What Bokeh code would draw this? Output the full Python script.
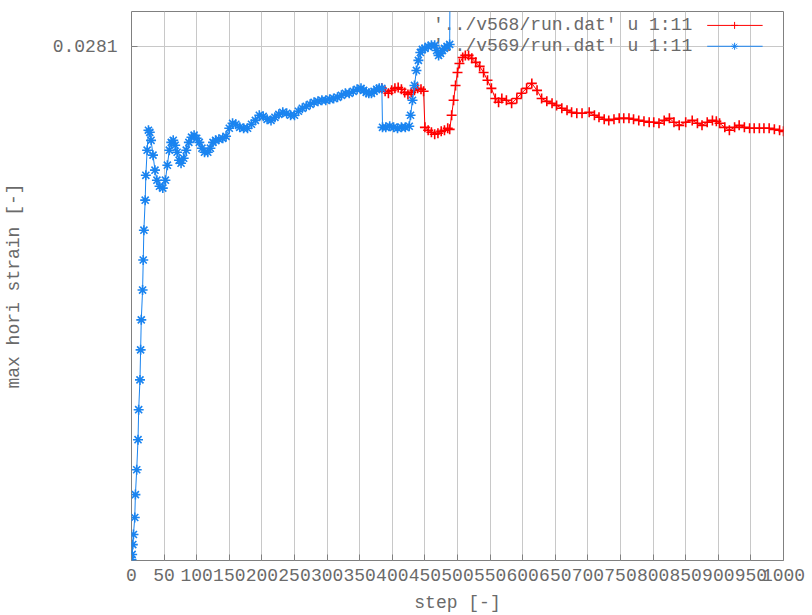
from bokeh.plotting import figure
from bokeh.models import Range1d, FixedTicker
from bokeh.core.properties import value
from bokeh.embed import file_html
from bokeh.resources import INLINE

# ---------------- data ----------------
series_names = ["'../v568/run.dat' u 1:11", "'../v569/run.dat' u 1:11"]

red_step = [384, 389, 394, 399, 404, 409, 414, 419, 424, 429, 434, 439, 444, 448,
            450, 455, 460, 465, 470, 475, 480, 485, 488,
            491, 494, 497, 500, 503, 508, 512, 517, 522, 528, 534, 540, 546, 552, 558,
            563, 568, 575, 583, 591, 598, 606, 614, 622, 629, 637, 645, 652, 660, 668,
            675, 683, 691, 702, 710, 717, 725, 732, 740, 748, 755, 763, 770, 778, 786,
            794, 801, 809, 817, 825, 832, 840, 850, 860, 868, 875, 883, 891, 897, 902,
            910, 917, 925, 932, 940, 948, 955, 963, 970, 978, 986, 994, 1000]
red_val = [0.0258, 0.02564, 0.02553, 0.02569, 0.0258, 0.02585, 0.02575, 0.02558, 0.02547,
           0.02558, 0.02569, 0.0258, 0.02575, 0.02564,
           0.02367, 0.02351, 0.0234, 0.02329, 0.02335, 0.02345, 0.02351, 0.02362, 0.02356,
           0.02433, 0.02515, 0.02596, 0.02667, 0.02716, 0.02749, 0.0276, 0.0276, 0.02744,
           0.02722, 0.027, 0.02667, 0.02624, 0.0258, 0.02525,
           0.02504, 0.02525, 0.02515, 0.02498, 0.02525, 0.02553, 0.0258, 0.02607, 0.02569,
           0.02525, 0.02509, 0.02498, 0.02487, 0.02471, 0.0246,
           0.02449, 0.02444, 0.02444, 0.02449, 0.02433, 0.02422, 0.02411, 0.02405, 0.02411,
           0.02416, 0.02416, 0.02416, 0.02411, 0.02405, 0.024,
           0.02395, 0.02395, 0.02389, 0.02405, 0.02416, 0.02395, 0.02378, 0.02395, 0.02405,
           0.02389, 0.02378, 0.02395, 0.02405, 0.024, 0.02389,
           0.02367, 0.02351, 0.02367, 0.02378, 0.02367, 0.02362, 0.02362, 0.02362, 0.02362,
           0.02362, 0.02356, 0.02351, 0.02345]

blue_step = [0, 1, 2, 3, 5, 6, 8, 10, 11, 13, 14, 15, 17, 18, 19, 21, 22, 24, 26, 28,
             30, 33, 36, 39, 43, 48, 52, 55, 58, 61, 64, 67, 70, 73, 76, 80, 84, 88, 92,
             96, 100, 104, 108, 112, 117, 121, 125, 129, 134, 140, 145, 150, 155, 160,
             166, 172, 178, 184, 190, 196, 202, 208, 214, 220, 226, 232, 238, 244, 250,
             256, 262, 268, 274, 280, 286, 292, 298, 304, 310, 316, 322, 328, 334, 340,
             346, 352, 356, 360, 364, 368, 372, 376, 380, 384,
             385, 390, 396, 402, 408, 414, 420, 426,
             428, 431, 434, 437, 440, 443, 446, 450, 455, 460, 465, 468, 471, 474, 477,
             480, 484, 488, 489]
blue_val = [0.00005, 0.00033, 0.00087, 0.00142, 0.00235, 0.0036, 0.00496, 0.0066, 0.00824,
            0.00987, 0.01151, 0.01315, 0.01478, 0.01642, 0.01805, 0.01969, 0.02105, 0.02242,
            0.02351, 0.0234,
            0.02296, 0.02215, 0.02133, 0.02078, 0.02045, 0.02035, 0.02078, 0.0216, 0.02242,
            0.02285, 0.02296, 0.02269, 0.02231, 0.02187, 0.02171, 0.02198, 0.02242, 0.02285,
            0.02313,
            0.02324, 0.02307, 0.02285, 0.02253, 0.02231, 0.02231, 0.02253, 0.02285, 0.02296,
            0.02302, 0.02307, 0.02318, 0.02362, 0.02389, 0.02384,
            0.02367, 0.02362, 0.02362, 0.02384, 0.02405, 0.02433, 0.02427, 0.02411, 0.02405,
            0.02422, 0.02438, 0.02449, 0.02444, 0.02433, 0.02433,
            0.02455, 0.02471, 0.02482, 0.02493, 0.02504, 0.02509, 0.02515, 0.02515, 0.0252,
            0.02525, 0.02531, 0.02542, 0.02553, 0.02553, 0.02564,
            0.02575, 0.0258, 0.02569, 0.02558, 0.02553, 0.02553, 0.02564, 0.02575, 0.0258,
            0.0258,
            0.02367, 0.02367, 0.02373, 0.02367, 0.02362, 0.02367, 0.02367, 0.02373,
            0.02433, 0.02515, 0.02596, 0.02678, 0.02733, 0.02776, 0.02793, 0.02798, 0.02809,
            0.02815, 0.02815, 0.02787, 0.0276, 0.02771, 0.02787,
            0.02798, 0.02809, 0.0282, 0.0340]

x_ticks = list(range(0, 1001, 50))
x_tick_labels = [str(t) for t in x_ticks]
y_ticks = [0.0281]
y_tick_labels = ["0.0281"]

# ---------------- style ----------------
FONT = "Liberation Mono"
FSIZE = "18px"
TXT = "#6a6a6a"
RED = "#ff0000"
BLUE = "#1a84f0"
FRAME = "#808080"
GRID = "#c8c8c8"

p = figure(width=812, height=615, output_backend="svg", toolbar_location=None,
           x_range=Range1d(0, 1000), y_range=Range1d(0, 0.030),
           min_border_left=131, min_border_right=29, min_border_top=11,
           min_border_bottom=54, background_fill_color="white",
           border_fill_color="white")

p.outline_line_color = FRAME
p.outline_line_width = 1

xt = FixedTicker(ticks=x_ticks)
yt = FixedTicker(ticks=y_ticks)


def style_axis(ax, ticker, overrides):
    ax.ticker = ticker
    ax.major_label_overrides = overrides
    ax.axis_line_color = None
    ax.major_tick_in = 6
    ax.major_tick_out = 0
    ax.major_tick_line_color = FRAME
    ax.minor_tick_line_color = None
    ax.major_label_text_font = FONT
    ax.major_label_text_color = TXT
    ax.major_label_text_font_size = FSIZE
    ax.axis_label_text_font = FONT
    ax.axis_label_text_font_size = FSIZE
    ax.axis_label_text_font_style = "normal"
    ax.axis_label_text_color = TXT


style_axis(p.xaxis[0], xt, dict(zip(x_ticks, x_tick_labels)))
p.xaxis[0].axis_label = "step [-]"
p.xaxis[0].major_label_standoff = 8
p.xaxis[0].axis_label_standoff = 9

style_axis(p.yaxis[0], yt, dict(zip(y_ticks, y_tick_labels)))
p.yaxis[0].axis_label = "max hori strain [-]"
p.yaxis[0].major_label_standoff = 14
p.yaxis[0].axis_label_standoff = 26

p.xgrid.ticker = xt
p.ygrid.ticker = yt
p.xgrid.grid_line_color = GRID
p.ygrid.grid_line_color = GRID

# ---------------- legend (gnuplot style: text then sample) ----------------
leg_text_x = 860
leg_rows_y = [0.02924, 0.0281]
leg_line_x0, leg_line_x1, leg_mark_x = 883, 968, 925

p.text(x=[leg_text_x, leg_text_x], y=leg_rows_y, text=series_names,
       text_font=value(FONT), text_font_size=FSIZE, text_color=TXT,
       text_align="right", text_baseline="middle")

# ---------------- series ----------------
p.line(red_step, red_val, line_color=RED, line_width=1)
p.scatter(red_step, red_val, marker="cross", size=10, line_color=RED, line_width=1.6)

p.line(blue_step, blue_val, line_color=BLUE, line_width=1)
p.scatter(blue_step, blue_val, marker="asterisk", size=10, line_color=BLUE, line_width=1.6)

# legend samples
p.segment(x0=[leg_line_x0], y0=[leg_rows_y[0]], x1=[leg_line_x1], y1=[leg_rows_y[0]],
          line_color=RED, line_width=1)
p.scatter([leg_mark_x], [leg_rows_y[0]], marker="cross", size=7, line_color=RED)
p.segment(x0=[leg_line_x0], y0=[leg_rows_y[1]], x1=[leg_line_x1], y1=[leg_rows_y[1]],
          line_color=BLUE, line_width=1)
p.scatter([leg_mark_x], [leg_rows_y[1]], marker="asterisk", size=7, line_color=BLUE)

open("out.html", "w").write(file_html(p, INLINE))
